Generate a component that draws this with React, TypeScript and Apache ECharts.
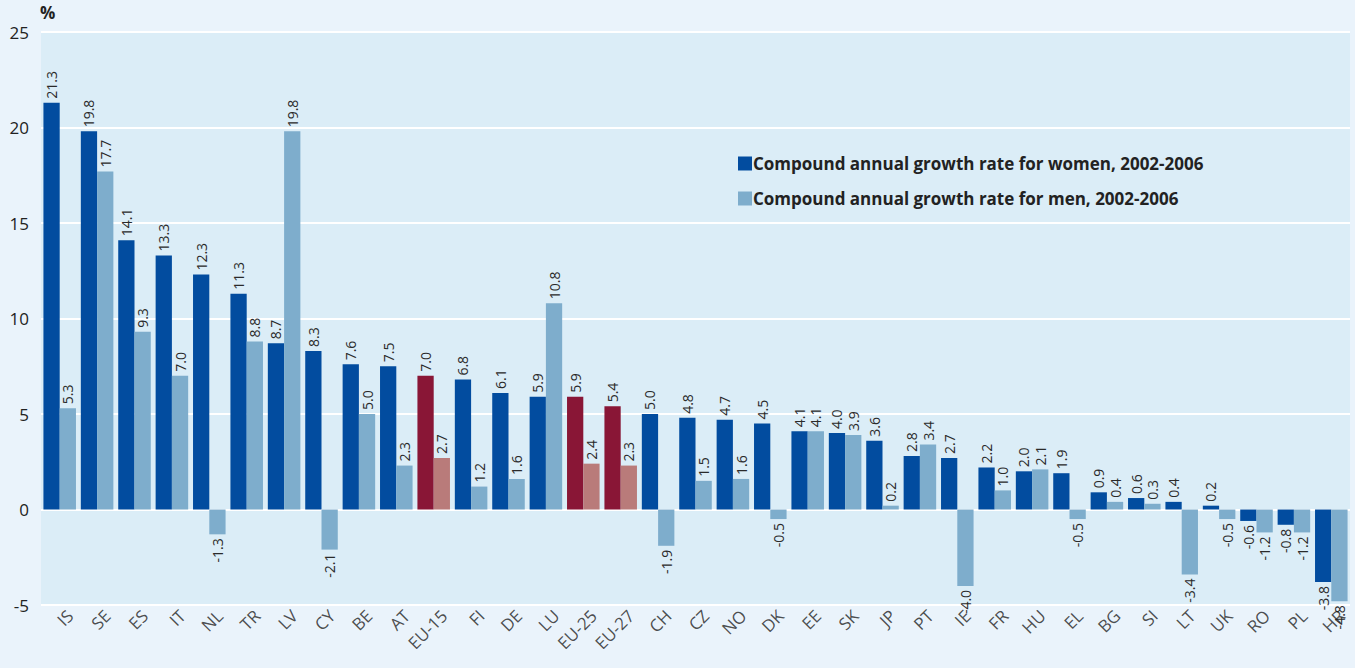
import React, { useEffect, useRef } from "react";
import * as echarts from "echarts";

const categories = ["IS","SE","ES","IT","NL","TR","LV","CY","BE","AT","EU-15","FI","DE","LU","EU-25","EU-27","CH","CZ","NO","DK","EE","SK","JP","PT","IE","FR","HU","EL","BG","SI","LT","UK","RO","PL","HR"];
const women = [21.3,19.8,14.1,13.3,12.3,11.3,8.7,8.3,7.6,7.5,7.0,6.8,6.1,5.9,5.9,5.4,5.0,4.8,4.7,4.5,4.1,4.0,3.6,2.8,2.7,2.2,2.0,1.9,0.9,0.6,0.4,0.2,-0.6,-0.8,-3.8];
const men = [5.3,17.7,9.3,7.0,-1.3,8.8,19.8,-2.1,5.0,2.3,2.7,1.2,1.6,10.8,2.4,2.3,-1.9,1.5,1.6,-0.5,4.1,3.9,0.2,3.4,-4.0,1.0,2.1,-0.5,0.4,0.3,-3.4,-0.5,-1.2,-1.2,-4.8];
const euAggregates = ["EU-15","EU-25","EU-27"];
const seriesNames = ["Compound annual growth rate for women, 2002-2006","Compound annual growth rate for men, 2002-2006"];
const Y_MIN = -5;
const Y_MAX = 25;
const Y_STEP = 5;

const WOMEN_COLOR = "#024c9f";
const MEN_COLOR = "#7eadcc";
const EU_WOMEN_COLOR = "#891636";
const EU_MEN_COLOR = "#b97b7a";
const FONT = "'Open Sans', 'Noto Sans', sans-serif";

function buildData(values: number[], normal: string, eu: string) {
  return values.map((v, i) => {
    const isEu = euAggregates.includes(categories[i]);
    const neg = v < 0;
    return {
      value: v,
      itemStyle: { color: isEu ? eu : normal },
      label: {
        show: true,
        position: neg ? "bottom" : "top",
        rotate: 90,
        align: neg ? "right" : "left",
        verticalAlign: "middle",
        distance: 4,
        formatter: v.toFixed(1),
        fontSize: 14,
        color: "#2a2a2a",
        fontFamily: FONT,
      },
    };
  });
}

export default function App() {
  const ref = useRef<HTMLDivElement>(null);
  useEffect(() => {
    document.body.style.margin = "0";
    document.body.style.background = "#eaf3fb";
    const chart = echarts.init(ref.current!, undefined, { renderer: "svg" });
    chart.setOption({
      animation: false,
      backgroundColor: "#eaf3fb",
      textStyle: { fontFamily: FONT },
      grid: {
        left: 41,
        right: 5,
        top: 32,
        bottom: 63,
        show: true,
        backgroundColor: "#dbedf7",
        borderWidth: 0,
      },
      legend: {
        orient: "vertical",
        left: 733,
        top: 150,
        itemWidth: 14,
        itemHeight: 14,
        itemGap: 18,
        icon: "rect",
        data: seriesNames,
        textStyle: { fontSize: 17, fontWeight: "bold", color: "#222", fontFamily: FONT, padding: [0, 0, 0, -4] },
      },
      graphic: [
        { type: "text", left: 40, top: 4, style: { text: "%", fontSize: 17, fontWeight: "bold", fill: "#222", fontFamily: FONT } },
      ],
      xAxis: {
        type: "category",
        data: categories,
        axisLine: { show: false },
        axisTick: { show: false },
        axisLabel: { show: false },
      },
      yAxis: {
        type: "value",
        min: Y_MIN,
        max: Y_MAX,
        interval: Y_STEP,
        axisLine: { show: false },
        axisTick: { show: false },
        axisLabel: { fontSize: 17, color: "#222", margin: 12, fontFamily: FONT },
        splitLine: { lineStyle: { color: "#ffffff", width: 2 } },
      },
      series: [
        {
          name: seriesNames[0],
          type: "bar",
          barGap: "0%",
          barCategoryGap: "13%",
          itemStyle: { color: WOMEN_COLOR },
          data: buildData(women, WOMEN_COLOR, EU_WOMEN_COLOR),
        },
        {
          name: seriesNames[1],
          type: "bar",
          barGap: "0%",
          barCategoryGap: "13%",
          itemStyle: { color: MEN_COLOR },
          data: buildData(men, MEN_COLOR, EU_MEN_COLOR),
        },
        {
          name: "category-labels",
          type: "scatter",
          silent: true,
          clip: false,
          symbolSize: 0,
          itemStyle: { color: "transparent" },
          data: categories.map((c) => ({
            value: Y_MIN,
            label: {
              show: true,
              position: "bottom",
              rotate: 45,
              align: "right",
              verticalAlign: "top",
              distance: 6,
              offset: [6, 0],
              formatter: c,
              fontSize: 17,
              color: "#222",
              fontFamily: FONT,
            },
          })),
        },
      ],
    });
    return () => chart.dispose();
  }, []);
  return <div ref={ref} style={{ width: 1355, height: 668 }} />;
}
